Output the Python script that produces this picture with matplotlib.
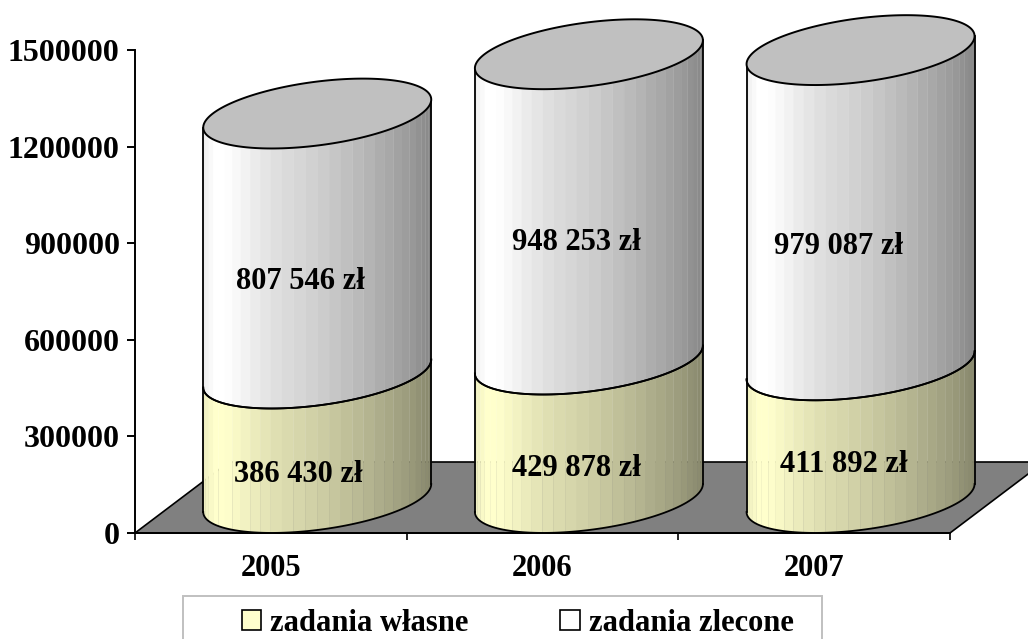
import numpy as np
import matplotlib
matplotlib.use("Agg")
import matplotlib.pyplot as plt
from matplotlib.patches import Patch, Polygon, Rectangle

years = ["2005", "2006", "2007"]
zadania_wlasne = [386430, 429878, 411892]
zadania_zlecone = [807546, 948253, 979087]
label_wlasne = ["386 430 zł", "429 878 zł", "411 892 zł"]
label_zlecone = ["807 546 zł", "948 253 zł", "979 087 zł"]
y_ticks = [0, 300000, 600000, 900000, 1200000, 1500000]

W, H = 1028, 639
SERIF = "Liberation Serif"
FS = 22

# shading across the cylinder, from left edge to right edge
shade_u = [0.0, 0.05, 0.10, 0.30, 0.50, 0.70, 0.90, 1.0]
shade_v = [0.93, 1.0, 1.0, 0.88, 0.81, 0.72, 0.61, 0.53]

plt.rcParams["font.family"] = SERIF
plt.rcParams["font.weight"] = "bold"

fig = plt.figure(figsize=(W / 100, H / 100), dpi=100)
ax = fig.add_axes([135 / W, 1 - 533 / H, 815 / W, 483 / H])
ax.set_xlim(0, 3)
ax.set_ylim(0, 1500000)
ax.patch.set_alpha(0)

px_x = 3 / 815  # data per pixel
px_y = 1500000 / 483

# floor of the 3d box, its far right corner falls outside the picture
floor = Polygon([(0, 0), (94 * px_x, 71 * px_y), (909 * px_x, 71 * px_y), (815 * px_x, 0)],
                closed=True, fc="#808080", ec="black", lw=1.2, clip_on=False, zorder=1)
ax.add_patch(floor)

half_w = 114 * px_x
shift = 46.4 * px_x
k = 14 * px_y
b = 32 * px_y
base_h = 35 * px_y


def rim(cx, cy, t):
    return cx + half_w * np.cos(t), cy + k * np.cos(t) + b * np.sin(t)


def wall(cx, y0, y1, rgb):
    # polygon strips, narrower near the edges like the excel cylinder
    ts = np.linspace(np.pi, 2 * np.pi, 31)
    for t0, t1 in zip(ts[:-1], ts[1:]):
        tt = np.linspace(t0, t1, 4)
        x, lo = rim(cx, y0, tt)
        _, hi = rim(cx, y1, tt)
        u = (x.mean() - (cx - half_w)) / (2 * half_w)
        v = np.interp(u, shade_u, shade_v)
        col = tuple(c * v for c in rgb)
        ax.fill(np.r_[x, x[::-1]], np.r_[lo, hi[::-1]], fc=col, ec=col, lw=0.2,
                clip_on=False, zorder=3)
    tt = np.linspace(np.pi, 2 * np.pi, 120)
    x, lo = rim(cx, y0, tt)
    ax.plot(x, lo, color="black", lw=1.3, clip_on=False, zorder=5)
    for sx, st in ((cx - half_w, np.pi), (cx + half_w, 0)):
        _, a = rim(cx, y0, st)
        _, c = rim(cx, y1, st)
        ax.plot([sx, sx], [a, c], color="black", lw=1.3, clip_on=False, zorder=5)


for i in range(len(years)):
    cx = i + 0.5 + shift
    y0 = base_h
    y1 = y0 + zadania_wlasne[i]
    y2 = y1 + zadania_zlecone[i]
    wall(cx, y0, y1, (1.0, 1.0, 0.8))
    wall(cx, y1, y2, (1.0, 1.0, 1.0))
    tt = np.linspace(np.pi, 2 * np.pi, 120)
    x, m = rim(cx, y1, tt)
    ax.plot(x, m, color="black", lw=1.3, clip_on=False, zorder=5)
    tt = np.linspace(0, 2 * np.pi, 240)
    x, top = rim(cx, y2, tt)
    ax.fill(x, top, fc="#c0c0c0", ec="black", lw=1.4, clip_on=False, zorder=6)

for s in ["top", "right"]:
    ax.spines[s].set_visible(False)
for s in ["left", "bottom"]:
    ax.spines[s].set_linewidth(1.4)
    ax.spines[s].set_zorder(2)

ax.set_yticks(y_ticks)
ax.set_yticklabels([str(v) for v in y_ticks], fontsize=23, fontweight="bold")
ax.set_xticks([0, 1, 2, 3])
ax.set_xticklabels([])
ax.set_xticks([0.5, 1.5, 2.5], minor=True)
ax.set_xticklabels(years, minor=True, fontsize=FS, fontweight="bold")
ax.tick_params(axis="y", length=6, width=1.4, pad=5)
ax.tick_params(axis="x", which="major", length=5, width=1.2)
ax.tick_params(axis="x", which="minor", length=0, pad=15)

# the value labels were placed by hand in the original
pos_wlasne = [(298, 475), (576, 468), (844, 464)]
pos_zlecone = [(300, 282), (576, 243), (838, 247)]
for txt, (px, py) in zip(label_wlasne + label_zlecone, pos_wlasne + pos_zlecone):
    fig.text(px / W, 1 - py / H, txt, ha="center", va="center", fontsize=FS,
             fontweight="bold", zorder=10)

# legend box runs off the bottom of the picture
fig.add_artist(Rectangle((183 / W, -0.02), 639 / W, 1 - 596 / H + 0.02, transform=fig.transFigure,
                         fc="white", ec="#c0c0c0", lw=1.4, zorder=-1))
handles = [Patch(fc="#ffffcc", ec="black", lw=1.2), Patch(fc="white", ec="black", lw=1.2)]
fig.legend(handles, ["zadania własne", "zadania zlecone"], ncol=2, frameon=False,
           loc="upper left", bbox_to_anchor=(242 / W, 1 - 609 / H), borderpad=0, borderaxespad=0,
           prop={"family": SERIF, "weight": "bold", "size": FS},
           handlelength=0.63, handleheight=0.63, handletextpad=0.3, columnspacing=3.0)

fig.savefig("out.png", dpi=100)
